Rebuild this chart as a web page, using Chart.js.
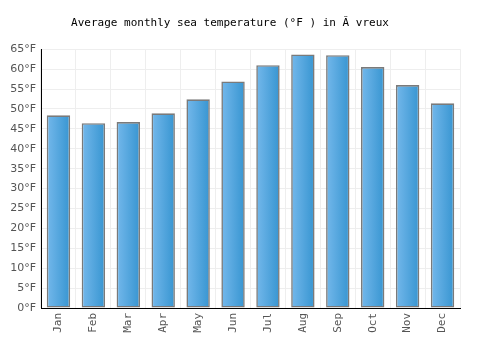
<!DOCTYPE html>
<html>
<head>
<meta charset="utf-8">
<script src="https://cdn.jsdelivr.net/npm/chart.js@4"></script>
<style>
  body { margin: 0; background: #fff; }
</style>
</head>
<body>
<canvas id="chart" width="500" height="350"></canvas>
<script>
// data
const months = ["Jan", "Feb", "Mar", "Apr", "May", "Jun", "Jul", "Aug", "Sep", "Oct", "Nov", "Dec"];
const seaTemp = [48.4, 46.4, 46.7, 48.9, 52.4, 56.9, 61.0, 63.7, 63.5, 60.5, 56.0, 51.4];
const yTicks = [0, 5, 10, 15, 20, 25, 30, 35, 40, 45, 50, 55, 60, 65];

// horizontal gradient on each bar
const barGradient = {
  id: "barGradient",
  beforeDatasetsDraw(chart) {
    const c = chart.ctx;
    chart.getDatasetMeta(0).data.forEach(bar => {
      const x0 = bar.x - bar.width / 2;
      const x1 = bar.x + bar.width / 2;
      const g = c.createLinearGradient(x0, 0, x1, 0);
      g.addColorStop(0, "#74b8eb");
      g.addColorStop(1, "#3795d1");
      bar.options = Object.assign({}, bar.options, { backgroundColor: g });
    });
  }
};

new Chart(document.getElementById("chart"), {
  type: "bar",
  data: {
    labels: months,
    datasets: [{
      data: seaTemp,
      backgroundColor: () => "#4ea5dc",
      borderColor: "#7a7a7a",
      borderWidth: 1.6,
      borderSkipped: false,
      barPercentage: 0.67,
      categoryPercentage: 1
    }]
  },
  options: {
    responsive: false,
    animation: false,
    layout: { padding: { left: 0, right: 40, top: 0, bottom: 0 } },
    plugins: {
      legend: { display: false },
      tooltip: { enabled: false },
      title: {
        display: true,
        text: "Average monthly sea temperature (°F ) in Ă vreux",
        color: "#000",
        font: { family: "DejaVu Sans Mono", size: 11, weight: "normal" },
        padding: { top: 17, bottom: 19 }
      }
    },
    scales: {
      x: {
        grid: { color: "#eeeeee", drawTicks: false },
        border: { color: "#000", width: 1 },
        ticks: {
          color: "#555",
          font: { family: "DejaVu Sans Mono", size: 11 },
          minRotation: 90,
          maxRotation: 90,
          padding: 5
        },
        afterFit(scale) { scale.height = 42; }
      },
      y: {
        min: 0,
        max: 65,
        grid: { color: "#eeeeee", drawTicks: false },
        border: { color: "#000", width: 1 },
        afterBuildTicks(scale) { scale.ticks = yTicks.map(v => ({ value: v })); },
        ticks: {
          color: "#555",
          font: { family: "DejaVu Sans", size: 11 },
          padding: 5,
          callback: v => v + "°F"
        },
        afterFit(scale) { scale.width = 41; }
      }
    }
  },
  plugins: [barGradient]
});
</script>
</body>
</html>
